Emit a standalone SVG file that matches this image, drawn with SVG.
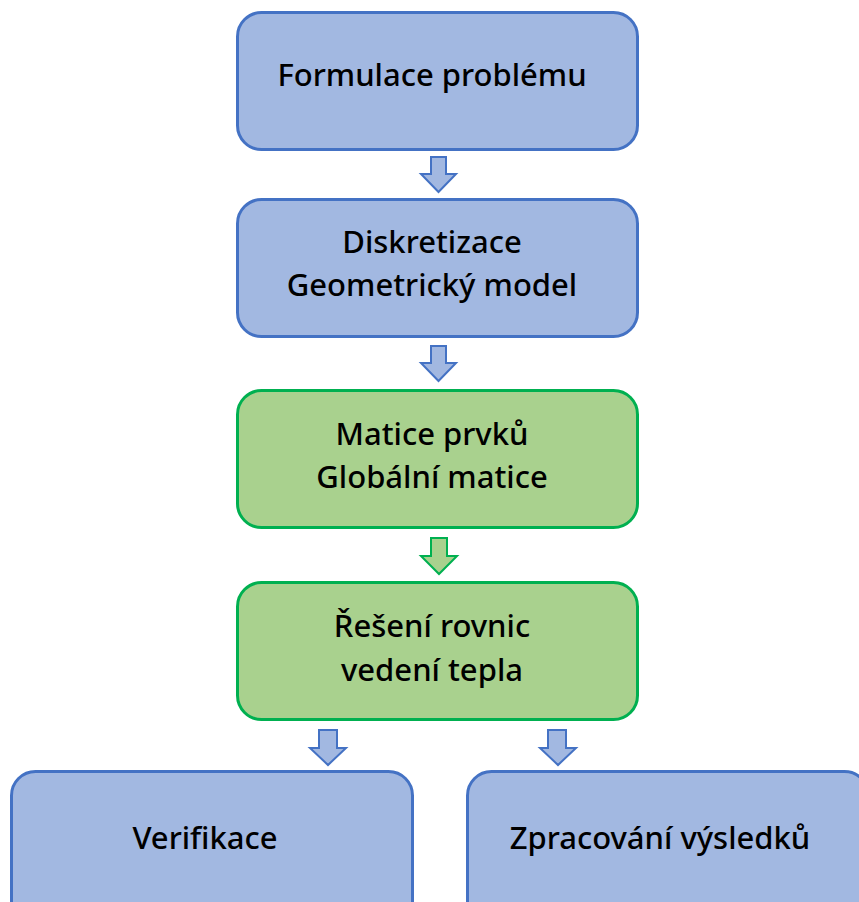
<svg xmlns="http://www.w3.org/2000/svg" width="859" height="902" viewBox="0 0 859 902">
<defs>
<style>
.blue{fill:#A2B8E1;stroke:#4472C4;stroke-width:3}
.green{fill:#A9D18E;stroke:#00B050;stroke-width:3}
.ab{fill:#A2B8E1;stroke:#4472C4;stroke-width:2;stroke-linejoin:miter}
.ag{fill:#A9D18E;stroke:#00B050;stroke-width:2;stroke-linejoin:miter}
text{font-family:"Noto Sans","Open Sans",sans-serif;font-size:31px;font-weight:500;fill:#000;text-anchor:middle}
</style>
</defs>
<rect width="859" height="902" fill="#fff"/>
<g id="n1"><rect class="blue" x="237.5" y="12.5" width="400" height="137" rx="24"/><text x="432" y="86">Formulace problému</text></g>
<g id="n2"><rect class="blue" x="237.5" y="199.5" width="400" height="137" rx="24"/><text x="432" y="253">Diskretizace</text><text x="432" y="296">Geometrický model</text></g>
<g id="n3"><rect class="green" x="237.5" y="390.5" width="400" height="137" rx="24"/><text x="432" y="445">Matice prvků</text><text x="432" y="488">Globální matice</text></g>
<g id="n4"><rect class="green" x="237.5" y="582.5" width="400" height="137" rx="24"/><text x="432" y="637">Řešení rovnic</text><text x="432" y="681">vedení tepla</text></g>
<g id="n5"><rect class="blue" x="11.5" y="771.5" width="401" height="160" rx="24"/><text x="205" y="849">Verifikace</text></g>
<g id="n6"><rect class="blue" x="467.5" y="771.5" width="401" height="160" rx="24"/><text x="660" y="849">Zpracování výsledků</text></g>
<g id="connectors">
<path class="ab" d="M431,157 H446 V174 H456 L438.5,192 L421,174 H431 Z"/>
<path class="ab" d="M431,346 H446 V363 H456 L438.5,381 L421,363 H431 Z"/>
<path class="ag" d="M431,538 H447 V556 H457 L439,574 L421,556 H431 Z"/>
<path class="ab" d="M319,730 H337 V748 H346 L328,765 L310,748 H319 Z"/>
<path class="ab" d="M548,730 H566 V748 H576 L558,765 L540,748 H548 Z"/>
</g>
</svg>
